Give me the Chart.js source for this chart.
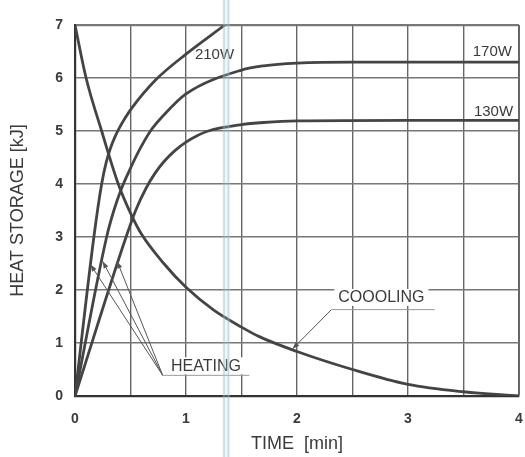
<!DOCTYPE html>
<html><head><meta charset="utf-8">
<script src="https://cdn.jsdelivr.net/npm/chart.js@4/dist/chart.umd.min.js"></script>
<style>html,body{margin:0;padding:0;background:#fff;}#wrap{width:525px;height:457px;}</style>
</head><body><div id="wrap"><canvas id="c" width="525" height="457"></canvas></div>
<script>
// ---- data ----
const xTickLabels = ['0', '1', '2', '3', '4'];
const yTickLabels = ['0', '1', '2', '3', '4', '5', '6', '7'];

const coolingTime = [0, 0.1, 0.24, 0.39, 0.5, 0.6, 0.8, 1.0, 1.25, 1.5, 1.66, 2, 2.5, 3, 3.5, 4];
const coolingHeat = [7, 6.0, 5.0, 4.0, 3.45, 3.05, 2.5, 2.05, 1.62, 1.3, 1.12, 0.84, 0.5, 0.22, 0.08, 0];

const heat210Time = [0, 0.17, 0.24, 0.28, 0.32, 0.36, 0.40, 0.45, 0.5, 0.73, 1.0, 1.35];
const heat210 = [0, 3.0, 4.0, 4.4, 4.68, 4.89, 5.06, 5.24, 5.4, 5.97, 6.45, 7.0];

const heat170Time = [0, 0.285, 0.35, 0.42, 0.5, 0.59, 0.68, 0.8, 1.0, 1.5, 1.7, 2.0, 2.5, 3.0, 4.0];
const heat170 = [0, 3.0, 3.5, 3.92, 4.3, 4.68, 5.0, 5.3, 5.7, 6.15, 6.23, 6.28, 6.3, 6.3, 6.3];

const heat130Time = [0, 0.46, 0.55, 0.64, 0.72, 0.8, 0.9, 1.0, 1.1, 1.2, 1.5, 1.7, 2.0, 3.0, 4.0];
const heat130 = [0, 3.0, 3.52, 3.92, 4.2, 4.42, 4.63, 4.79, 4.91, 5.0, 5.12, 5.16, 5.19, 5.2, 5.2];

const seriesNames = ['COOOLING', '210W', '170W', '130W'];

// ---- annotation layout (data coordinates) ----
const FONT = '"Liberation Sans", Arial, sans-serif';
const TXT = '#3a3a3a';
const seriesLabelPos = {'210W': [1.257, 6.43], '170W': [3.76, 6.49], '130W': [3.77, 5.37]};
const heatingNote = {text: 'HEATING', center: [1.18, 0.56], join: [0.79, 0.39], lineEnd: [1.57, 0.39],
  tips: [[0.14, 2.48], [0.25, 2.54], [0.38, 2.54]]};
const coolingNote = {text: 'COOOLING', center: [2.76, 1.85], join: [2.31, 1.63], lineEnd: [3.24, 1.63], tip: [1.96, 0.89]};
const scanBand = [1.329, 1.40];

const pts = (t, v) => t.map((x, i) => ({x: x, y: v[i]}));
const lineStyle = {borderColor: '#444', borderWidth: 2.8, pointRadius: 0, fill: false, cubicInterpolationMode: 'monotone'};

function arrow(ctx, x0, y0, x1, y1) {
  ctx.beginPath(); ctx.moveTo(x0, y0); ctx.lineTo(x1, y1); ctx.stroke();
  const a = Math.atan2(y1 - y0, x1 - x0), L = 7, W = 2.6;
  ctx.beginPath();
  ctx.moveTo(x1, y1);
  ctx.lineTo(x1 - L * Math.cos(a) + W * Math.sin(a), y1 - L * Math.sin(a) - W * Math.cos(a));
  ctx.lineTo(x1 - L * Math.cos(a) - W * Math.sin(a), y1 - L * Math.sin(a) + W * Math.cos(a));
  ctx.closePath(); ctx.fill();
}

const notes = {
  id: 'notes',
  beforeDatasetsDraw(chart) {
    const {ctx, scales: {x, y}} = chart;
    ctx.save();
    ctx.font = '16px ' + FONT;
    [heatingNote, coolingNote].forEach(n => {
      const cx = x.getPixelForValue(n.center[0]), cy = y.getPixelForValue(n.center[1]);
      const w = ctx.measureText(n.text).width;
      ctx.fillStyle = '#fff';
      ctx.fillRect(cx - w / 2 - 4, cy - 9, w + 8, 17);
    });
    ctx.restore();
  },
  afterDatasetsDraw(chart) {
    const {ctx, scales: {x, y}} = chart;
    const P = p => [x.getPixelForValue(p[0]), y.getPixelForValue(p[1])];
    ctx.save();
    ctx.strokeStyle = '#555'; ctx.fillStyle = '#555'; ctx.lineWidth = 1;
    const j = P(heatingNote.join);
    heatingNote.tips.forEach(t => { const q = P(t); arrow(ctx, j[0], j[1], q[0], q[1]); });
    ctx.strokeStyle = '#999';
    let e = P(heatingNote.lineEnd);
    ctx.beginPath(); ctx.moveTo(j[0], j[1]); ctx.lineTo(e[0], e[1]); ctx.stroke();
    const cj = P(coolingNote.join), ct = P(coolingNote.tip);
    ctx.strokeStyle = '#555';
    arrow(ctx, cj[0], cj[1], ct[0], ct[1]);
    ctx.strokeStyle = '#999';
    e = P(coolingNote.lineEnd);
    ctx.beginPath(); ctx.moveTo(cj[0], cj[1]); ctx.lineTo(e[0], e[1]); ctx.stroke();
    ctx.fillStyle = TXT; ctx.font = '16px ' + FONT;
    ctx.textAlign = 'center'; ctx.textBaseline = 'middle';
    [heatingNote, coolingNote].forEach(n => { const c = P(n.center); ctx.fillText(n.text, c[0], c[1]); });
    ctx.font = '15px ' + FONT;
    seriesNames.slice(1).forEach(s => { const c = P(seriesLabelPos[s]); ctx.fillText(s, c[0], c[1]); });
    ctx.restore();
  },
  afterDraw(chart) {
    const {ctx, scales: {x}} = chart;
    const a = x.getPixelForValue(scanBand[0]), b = x.getPixelForValue(scanBand[1]);
    ctx.save();
    ctx.fillStyle = 'rgba(185,212,225,0.22)';
    ctx.fillRect(a, 0, b - a, chart.height);
    ctx.strokeStyle = 'rgba(140,185,205,0.45)'; ctx.lineWidth = 1.5;
    [a + 1.5, b - 2].forEach(px => { ctx.beginPath(); ctx.moveTo(px, 0); ctx.lineTo(px, chart.height); ctx.stroke(); });
    ctx.restore();
  }
};

new Chart(document.getElementById('c'), {
  type: 'line',
  data: {
    datasets: [
      Object.assign({label: seriesNames[0], data: pts(coolingTime, coolingHeat)}, lineStyle),
      Object.assign({label: seriesNames[1], data: pts(heat210Time, heat210)}, lineStyle),
      Object.assign({label: seriesNames[2], data: pts(heat170Time, heat170)}, lineStyle),
      Object.assign({label: seriesNames[3], data: pts(heat130Time, heat130)}, lineStyle)
    ]
  },
  options: {
    responsive: false, animation: false, devicePixelRatio: 1,
    layout: {padding: {top: 25, right: 6, left: 0, bottom: 0}},
    plugins: {legend: {display: false}, tooltip: {enabled: false}},
    scales: {
      x: {
        type: 'linear', min: 0, max: 4,
        afterFit: s => { s.height = 61; s.paddingLeft = 0; s.paddingRight = 0; },
        ticks: {stepSize: 0.5, autoSkip: false, maxRotation: 0, padding: 15, color: TXT,
          font: {family: FONT, size: 14, weight: 'bold'},
          callback: v => Number.isInteger(v) ? xTickLabels[v] : ''},
        grid: {drawTicks: false, color: '#666', lineWidth: c => (c.tick && c.tick.value === 4) ? 2 : 1.4},
        border: {display: true, color: '#333', width: 2.2},
        title: {display: true, text: 'TIME  [min]', color: TXT, font: {family: FONT, size: 18}, padding: {top: 0, bottom: 2}}
      },
      y: {
        min: 0, max: 7,
        afterFit: s => { s.width = 75; s.paddingTop = 0; s.paddingBottom = 0; },
        ticks: {stepSize: 1, padding: 12, color: TXT,
          font: {family: FONT, size: 14, weight: 'bold'},
          callback: v => yTickLabels[v]},
        grid: {drawTicks: false, color: '#777', lineWidth: c => (c.tick && c.tick.value === 7) ? 2.2 : 1.4},
        border: {display: true, color: '#333', width: 2.2},
        title: {display: true, text: 'HEAT STORAGE [kJ]', color: TXT, font: {family: FONT, size: 18}, padding: {top: 7, bottom: 0}}
      }
    }
  },
  plugins: [notes]
});
</script>
</body></html>
